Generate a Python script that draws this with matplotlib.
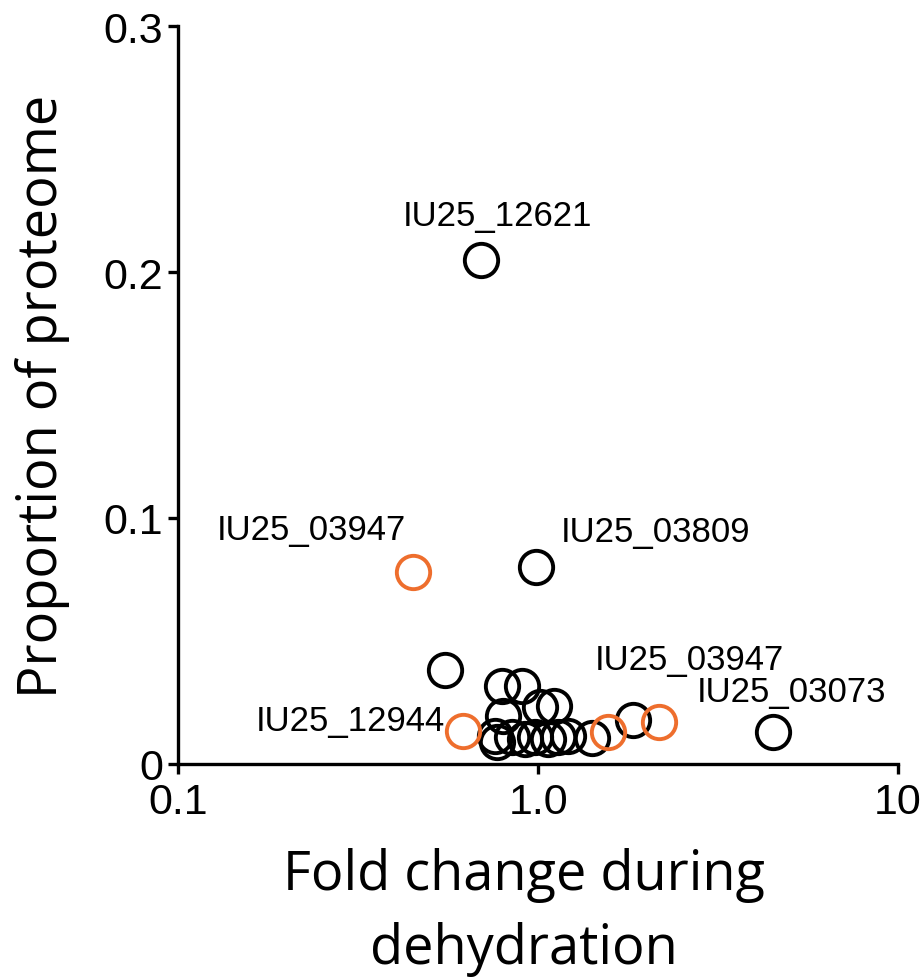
import matplotlib
matplotlib.use('Agg')
import matplotlib.pyplot as plt
import numpy as np

# fold change during dehydration vs proportion of proteome
black_fc = [0.692, 0.984, 0.55, 4.49, 1.84, 1.41,
            0.792, 0.900, 0.797, 1.01, 1.11,
            0.757, 0.767, 0.844, 0.917, 0.978, 1.062, 1.133, 1.208]
black_prop = [0.205, 0.080, 0.038, 0.013, 0.018, 0.0106,
              0.0317, 0.0317, 0.0195, 0.0232, 0.0236,
              0.0114, 0.0089, 0.011, 0.0102, 0.011, 0.0102, 0.011, 0.0114]
orange_fc = [0.448, 0.62, 1.56, 2.16]
orange_prop = [0.078, 0.0134, 0.013, 0.017]

# labelled proteins: (name, fold change, proportion)
label_names = ['IU25_12621', 'IU25_03947', 'IU25_03809', 'IU25_03947', 'IU25_03073', 'IU25_12944']
label_fc = [0.692, 0.448, 0.984, 2.16, 4.49, 0.62]
label_prop = [0.205, 0.078, 0.080, 0.017, 0.013, 0.0134]
label_offsets = [(17, 44), (-101, 43), (120, 36), (31, 63), (19, 40), (-113, 10)]

x_ticks = [0.1, 1.0, 10]
x_ticklabels = ['0.1', '1.0', '10']
y_ticks = [0, 0.1, 0.2, 0.3]
y_ticklabels = ['0', '0.1', '0.2', '0.3']

orange = '#ee6e2d'

fig = plt.figure(figsize=(9.23, 9.78), dpi=100)
ax = fig.add_axes([0.193, 0.218, 0.780, 0.754])

ax.plot(black_fc, black_prop, 'o', ms=24, mfc='none', mec='black', mew=2.8, clip_on=False)
ax.plot(orange_fc, orange_prop, 'o', ms=24, mfc='none', mec=orange, mew=2.8, clip_on=False)

for name, fx, py, off in zip(label_names, label_fc, label_prop, label_offsets):
    ax.annotate(name, (fx, py), xytext=off, textcoords='offset pixels',
                ha='center', va='center', fontsize=25, family='Liberation Sans')

ax.set_xscale('log')
ax.set_xlim(0.1, 10)
ax.set_ylim(0, 0.3)
ax.set_xticks(x_ticks)
ax.set_xticklabels(x_ticklabels)
ax.set_yticks(y_ticks)
ax.set_yticklabels(y_ticklabels)
ax.minorticks_off()

for s in ['top', 'right']:
    ax.spines[s].set_visible(False)
for s in ['left', 'bottom']:
    ax.spines[s].set_linewidth(2.4)
ax.tick_params(width=2.4, length=7, labelsize=31, pad=4)
ax.tick_params(axis='x', pad=6)
for lab in ax.get_xticklabels() + ax.get_yticklabels():
    lab.set_family('Liberation Sans')

ax.set_xlabel('Fold change during\ndehydration', fontsize=39, family='Open Sans', labelpad=18,
              linespacing=1.45)
ax.xaxis.label.set_x(0.48)
ax.set_ylabel('Proportion of proteome', fontsize=39, family='Open Sans', labelpad=24)

fig.savefig('out.png', dpi=100)
